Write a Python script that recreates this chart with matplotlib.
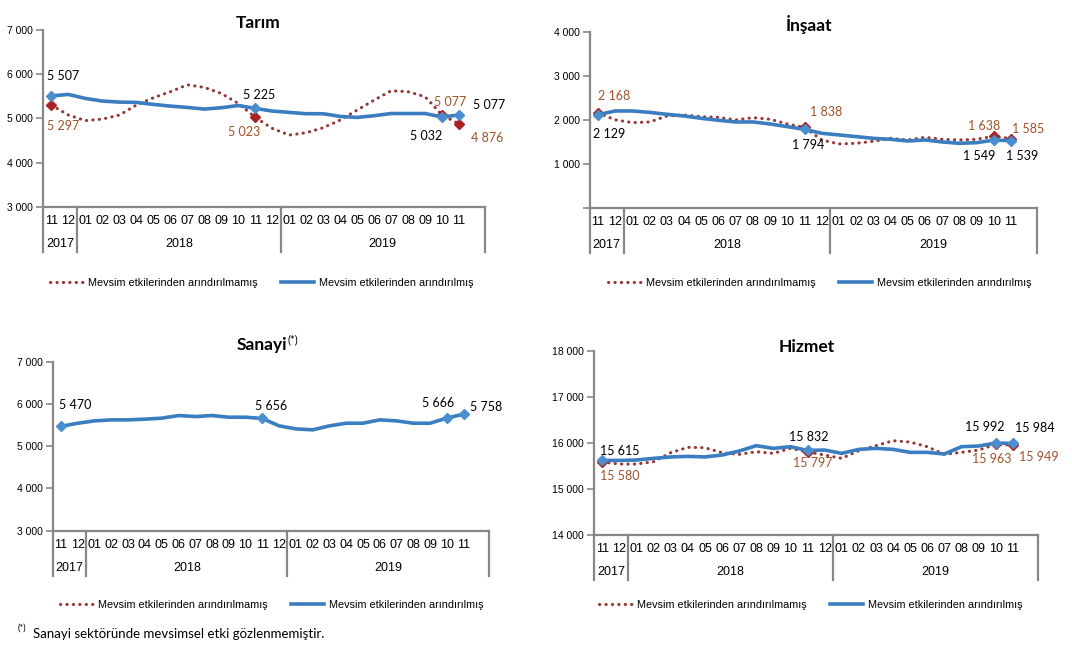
import matplotlib
matplotlib.use("Agg")
import matplotlib.pyplot as plt
from matplotlib.lines import Line2D

W, H = 1072, 645

months = ["11", "12", "01", "02", "03", "04", "05", "06", "07", "08", "09", "10", "11", "12",
          "01", "02", "03", "04", "05", "06", "07", "08", "09", "10", "11"]
years = ["2017", "2018", "2019"]
year_spans = [(0, 1), (2, 13), (14, 25)]
labelled = [0, 12, 23, 24]

# thousand persons, Nov 2017 - Nov 2019
tarim_sa = [5507, 5539, 5449, 5390, 5367, 5360, 5315, 5277, 5247, 5210, 5240, 5290, 5225,
            5165, 5135, 5105, 5105, 5045, 5022, 5060, 5110, 5110, 5110, 5032, 5077]
tarim_nsa = [5297, 5075, 4950, 4985, 5075, 5300, 5465, 5600, 5756, 5697, 5562, 5337, 5023,
             4775, 4625, 4678, 4790, 4963, 5187, 5412, 5622, 5600, 5487, 5077, 4876]

insaat_sa = [2129, 2212, 2212, 2180, 2136, 2098, 2045, 2000, 1962, 1962, 1917, 1856, 1794,
             1705, 1667, 1629, 1590, 1568, 1530, 1553, 1508, 1477, 1492, 1549, 1539]
insaat_nsa = [2168, 2010, 1947, 1962, 2098, 2121, 2083, 2068, 2008, 2060, 2023, 1917, 1838,
              1553, 1462, 1477, 1523, 1590, 1553, 1614, 1568, 1553, 1568, 1638, 1585]

sanayi_sa = [5470, 5544, 5600, 5623, 5623, 5640, 5663, 5726, 5702, 5726, 5686, 5686, 5656,
             5481, 5410, 5387, 5481, 5544, 5544, 5623, 5600, 5544, 5544, 5666, 5758]

hizmet_sa = [15615, 15615, 15623, 15660, 15690, 15703, 15690, 15732, 15819, 15935, 15877, 15913, 15832,
             15840, 15768, 15855, 15877, 15855, 15790, 15790, 15754, 15913, 15928, 15992, 15984]
hizmet_nsa = [15580, 15536, 15536, 15587, 15783, 15899, 15891, 15783, 15746, 15804, 15768, 15877, 15797,
              15732, 15660, 15826, 15935, 16043, 16014, 15913, 15746, 15790, 15840, 15963, 15949]

BLUE = "#3A7DC0"
BLUE_MK = "#4A8ED0"
RED = "#953735"
RED_MK = "#A82424"
BROWN = "#A0522D"
GRAY = "#878787"
AX_FONT = ["Liberation Sans", "DejaVu Sans"]
LB_FONT = ["Lato", "DejaVu Sans"]

fig = plt.figure(figsize=(W / 100, H / 100), dpi=100)


def fmt(v):
    return f"{v:,}".replace(",", " ")


def panel(box, ylim, yticks, ytick_labels, sa, nsa, offs_sa, offs_nsa, title, title_xy, leg_xy):
    l, t, r, b = box
    ax = fig.add_axes([l / W, 1 - b / H, (r - l) / W, (b - t) / H])
    x = list(range(len(sa)))
    if nsa is not None:
        ax.plot(x, nsa, color=RED, lw=2.2, linestyle=(0, (0.1, 2.0)), dash_capstyle="round", zorder=2)
        ax.plot(labelled, [nsa[i] for i in labelled], "D", color=RED_MK, ms=5.5, lw=0, zorder=3)
    ax.plot(x, sa, color=BLUE, lw=2.6, solid_capstyle="round", zorder=4)
    ax.plot(labelled, [sa[i] for i in labelled], "D", color=BLUE_MK, ms=5.5, lw=0, zorder=5)

    for k, i in enumerate(labelled):
        dx, dy = offs_sa[k]
        ax.annotate(fmt(sa[i]), (i, sa[i]), xytext=(dx, dy), textcoords="offset pixels",
                    ha="center", va="center", fontsize=9, family=LB_FONT, color="black")
        if nsa is not None:
            dx, dy = offs_nsa[k]
            ax.annotate(fmt(nsa[i]), (i, nsa[i]), xytext=(dx, dy), textcoords="offset pixels",
                        ha="center", va="center", fontsize=9, family=LB_FONT, color=BROWN)

    ax.set_xlim(-0.5, 25.5)
    ax.set_ylim(*ylim)
    ax.set_yticks(yticks)
    ax.set_yticklabels(ytick_labels, family=AX_FONT, fontsize=7.5)
    ax.set_xticks([])
    for s in ["top", "right"]:
        ax.spines[s].set_visible(False)
    for s in ["left", "bottom"]:
        ax.spines[s].set_color(GRAY)
        ax.spines[s].set_linewidth(1.6)
    ax.tick_params(axis="y", length=5, width=1.2, color=GRAY, pad=2)
    ax.patch.set_alpha(0)

    hpx = b - t
    for i, m in enumerate(months):
        ax.annotate(m, (i, 0), xycoords=("data", "axes fraction"), xytext=(0, -14),
                    textcoords="offset pixels", ha="center", va="center",
                    fontsize=9, family=AX_FONT, annotation_clip=False)
    for yr, (a, c) in zip(years, year_spans):
        ax.annotate(yr, ((a + c) / 2, 0), xycoords=("data", "axes fraction"), xytext=(0, -37),
                    textcoords="offset pixels", ha="center", va="center",
                    fontsize=9, family=AX_FONT, annotation_clip=False)
    for xs in [-0.5, 1.5, 13.5, 25.5]:
        ax.plot([xs, xs], [0, -45 / hpx], color=GRAY, lw=1.6,
                transform=ax.get_xaxis_transform(), clip_on=False)

    fig.text(title_xy[0] / W, 1 - title_xy[1] / H, title, ha="center", va="center",
             fontsize=12.5, fontweight="bold", family=LB_FONT)

    handles = [Line2D([], [], color=RED, lw=2.2, linestyle=(0, (0.1, 2.0)), dash_capstyle="round"),
               Line2D([], [], color=BLUE, lw=2.6)]
    fig.legend(handles, ["Mevsim etkilerinden arındırılmamış", "Mevsim etkilerinden arındırılmış"],
               loc="center", bbox_to_anchor=(leg_xy[0] / W, 1 - leg_xy[1] / H), ncol=2,
               frameon=False, prop={"family": AX_FONT, "size": 7.8},
               handlelength=3.0, handletextpad=0.5, columnspacing=2.2)
    return ax


k4 = [0, 1000, 2000, 3000, 4000]

panel((43, 29.5, 484.5, 207.3), (3000, 7000), [3000, 4000, 5000, 6000, 7000],
      [fmt(v) for v in [3000, 4000, 5000, 6000, 7000]],
      tarim_sa, tarim_nsa,
      [(12, 20), (4, 13), (-16, -19), (30, 10)],
      [(12, -21), (-11, -15), (8, 13), (28, -14)],
      "Tarım", (258, 23), (262, 283))

panel((589.5, 32.3, 1036.8, 208.3), (0, 4000), k4,
      [""] + [fmt(v) for v in k4[1:]],
      insaat_sa, insaat_nsa,
      [(11, -19), (4, -16), (-15, -16), (11, -15)],
      [(16, 17), (22, 15), (-10, 10), (17, 10)],
      "İnşaat", (809, 24), (820, 283))

panel((52.6, 361.7, 488.8, 530.7), (3000, 7000), [3000, 4000, 5000, 6000, 7000],
      [fmt(v) for v in [3000, 4000, 5000, 6000, 7000]],
      sanayi_sa, None,
      [(14, 21), (9, 12), (-9, 15), (22, 7)],
      None,
      "", (260, 345), (272, 605))
fig.text(287 / W, 1 - 345 / H, "Sanayi", ha="right", va="center",
         fontsize=12.5, fontweight="bold", family=LB_FONT)
fig.text(288 / W, 1 - 340 / H, "(*)", ha="left", va="center", fontsize=8, family=LB_FONT)

panel((593.8, 350.7, 1038.4, 534.7), (14000, 18000), [14000, 15000, 16000, 17000, 18000],
      [fmt(v) for v in [14000, 15000, 16000, 17000, 18000]],
      hizmet_sa, hizmet_nsa,
      [(17, 9), (1, 13), (-11, 16), (22, 15)],
      [(17, -14), (5, -11), (-4, -15), (26, -12)],
      "Hizmet", (807, 347), (811, 605))

fig.text(18 / W, 1 - 628 / H, "(*)", ha="left", va="center", fontsize=6.5, family=LB_FONT)
fig.text(33 / W, 1 - 634 / H, "Sanayi sektöründe mevsimsel etki gözlenmemiştir.", ha="left",
         va="center", fontsize=9.5, family=LB_FONT)

fig.savefig("out.png", dpi=100)
